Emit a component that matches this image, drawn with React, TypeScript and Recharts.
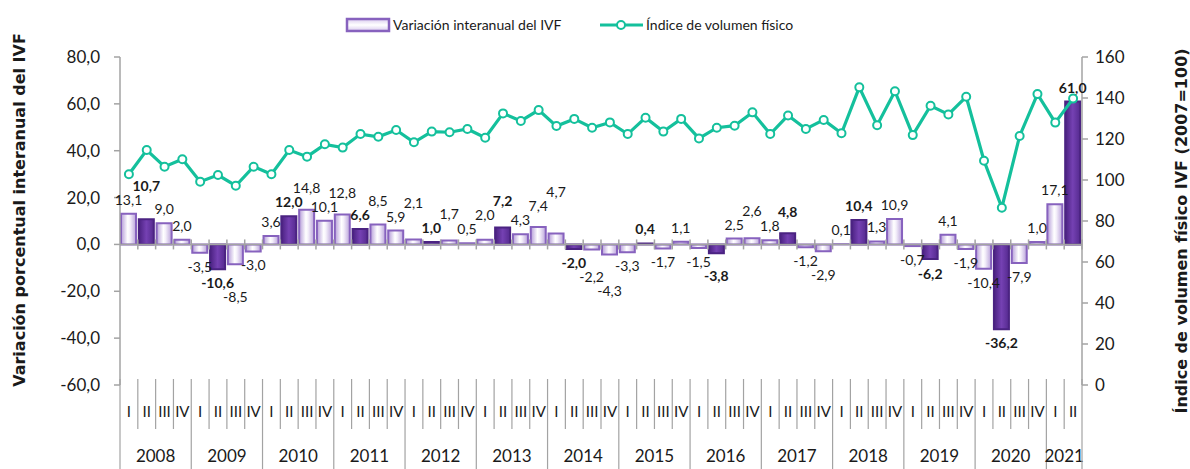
import { ComposedChart, Bar, Line, XAxis, YAxis, ReferenceLine, LabelList, Cell } from 'recharts'

const years = ['2008', '2009', '2010', '2011', '2012', '2013', '2014', '2015', '2016', '2017', '2018', '2019', '2020', '2021']
const quarters = ['I', 'II', 'III', 'IV']

// Variación interanual del IVF (%), trimestral
const variacion = [
  13.1, 10.7, 9.0, 2.0,
  -3.5, -10.6, -8.5, -3.0,
  3.6, 12.0, 14.8, 10.1,
  12.8, 6.6, 8.5, 5.9,
  2.1, 1.0, 1.7, 0.5,
  2.0, 7.2, 4.3, 7.4,
  4.7, -2.0, -2.2, -4.3,
  -3.3, 0.4, -1.7, 1.1,
  -1.5, -3.8, 2.5, 2.6,
  1.8, 4.8, -1.2, -2.9,
  0.1, 10.4, 1.3, 10.9,
  -0.7, -6.2, 4.1, -1.9,
  -10.4, -36.2, -7.9, 1.0,
  17.1, 61.0,
]

// Índice de volumen físico (2007=100)
const ivf = [
  102.8, 114.6, 106.5, 110.1,
  99.2, 102.4, 97.2, 106.5,
  102.8, 114.6, 111.4, 117.4,
  115.8, 122.4, 121.1, 124.4,
  118.4, 123.6, 123.3, 124.9,
  120.6, 132.5, 128.8, 134.1,
  126.3, 129.8, 125.5, 128.1,
  122.4, 130.4, 123.6, 129.8,
  120.3, 125.5, 126.5, 133.0,
  122.4, 131.5, 124.9, 129.3,
  122.8, 145.2, 126.7, 143.3,
  121.9, 136.2, 132.0, 140.6,
  109.4, 86.5, 121.5, 141.9,
  128.0, 139.7,
]

const leftTicks = [-60, -40, -20, 0, 20, 40, 60, 80]
const rightTicks = [0, 20, 40, 60, 80, 100, 120, 140, 160]
const LEFT_MIN = -60
const LEFT_MAX = 80

const data = variacion.map((v, i) => ({
  name: `${quarters[i % 4]} ${years[Math.floor(i / 4)]}`,
  q: quarters[i % 4],
  year: years[Math.floor(i / 4)],
  variacion: v,
  ivf: ivf[i],
}))

const W = 1190
const H = 469
const TOP = 57
const LEFT_W = 120
const RIGHT_W = 108
const XAXIS_H = 84
const plotBottom = H - XAXIS_H
const band = (W - LEFT_W - RIGHT_W) / data.length

const FONT = 'Lato, Carlito, Calibri, sans-serif'
const TITLE_FONT = "'DejaVu Sans', Verdana, sans-serif"
const TEXT = '#1a1a1a'
const GRAY = '#a3a3a3'
const TEAL = '#14c09c'

const fmt = (v: number) => v.toFixed(1).replace('.', ',')

// stagger neighbouring data labels so they don't sit on top of each other
const pxPerUnit = (plotBottom - TOP) / (LEFT_MAX - LEFT_MIN)
const LABEL_GAP = 14
const labelShift: number[] = []
let prevY: number | null = null
let prevPos: boolean | null = null
variacion.forEach((v) => {
  const pos = v >= 0
  const edge = TOP + (LEFT_MAX - v) * pxPerUnit
  const base = pos ? edge - 9 : edge + 19
  let y = base
  if (prevY !== null && prevPos === pos && Math.abs(y - prevY) < LABEL_GAP) {
    y = pos ? Math.min(y, prevY - LABEL_GAP) : Math.max(y, prevY + LABEL_GAP)
  }
  labelShift.push(y - base)
  prevY = y
  prevPos = pos
})

function QuarterTick(props: any) {
  const { x, payload } = props
  const i = props.index ?? payload.index
  const left = x - band / 2
  const isYearStart = i % 4 === 0
  const isLast = i === data.length - 1
  const count = Math.min(4, data.length - i)
  return (
    <g>
      <line
        x1={left}
        x2={left}
        y1={plotBottom - 6}
        y2={isYearStart ? H : plotBottom + 44}
        stroke={GRAY}
        strokeWidth={1.2}
      />
      {isLast && (
        <line x1={left + band} x2={left + band} y1={plotBottom - 6} y2={H} stroke={GRAY} strokeWidth={1.2} />
      )}
      <text x={x} y={plotBottom + 32} textAnchor="middle" fontSize={15} fontFamily={FONT} fill={TEXT}>
        {data[i].q}
      </text>
      {isYearStart && (
        <text
          x={left + (count * band) / 2}
          y={plotBottom + 77}
          textAnchor="middle"
          fontSize={17}
          fontFamily={FONT}
          fill={TEXT}
        >
          {data[i].year}
        </text>
      )}
    </g>
  )
}

function BarLabel(props: any) {
  const { x, y, width, height, value, index } = props
  const top = Math.min(y, y + height)
  const bottom = Math.max(y, y + height)
  const pos = value >= 0
  return (
    <text
      x={x + width / 2}
      y={(pos ? top - 9 : bottom + 19) + (labelShift[index] || 0)}
      textAnchor="middle"
      fontSize={14}
      fontFamily={FONT}
      fontWeight={index % 4 === 1 ? 700 : 400}
      fill={TEXT}
    >
      {fmt(value)}
    </text>
  )
}

function ZeroAxis(props: any) {
  const { x1, y1, x2 } = props
  const step = (x2 - x1) / data.length
  return (
    <g>
      <line x1={x1} x2={x2} y1={y1} y2={y1} stroke={GRAY} strokeWidth={1.5} />
      {data.map((_, k) => (
        <line
          key={k}
          x1={x1 + (k + 1) * step}
          x2={x1 + (k + 1) * step}
          y1={y1 - 5}
          y2={y1 + 5}
          stroke={GRAY}
          strokeWidth={1.5}
        />
      ))}
    </g>
  )
}

export default function App() {
  return (
    <div style={{ position: 'relative', width: W, height: H, background: '#fff' }}>
      <style>{'body{margin:0}'}</style>
      <ComposedChart width={W} height={H} data={data} margin={{ top: TOP, right: 0, bottom: 0, left: 0 }}>
        <defs>
          <linearGradient id="gLight" x1="0" y1="0" x2="1" y2="0">
            <stop offset="0%" stopColor="#b49bd8" />
            <stop offset="45%" stopColor="#ffffff" />
            <stop offset="60%" stopColor="#f4effa" />
            <stop offset="100%" stopColor="#b9a2da" />
          </linearGradient>
          <linearGradient id="gDark" x1="0" y1="0" x2="1" y2="0">
            <stop offset="0%" stopColor="#4a2180" />
            <stop offset="50%" stopColor="#7541b3" />
            <stop offset="100%" stopColor="#552a8f" />
          </linearGradient>
        </defs>
        <XAxis
          dataKey="name"
          interval={0}
          height={XAXIS_H}
          axisLine={false}
          tickLine={false}
          tick={<QuarterTick />}
        />
        <YAxis
          yAxisId="left"
          domain={[LEFT_MIN, LEFT_MAX]}
          ticks={leftTicks}
          width={LEFT_W}
          axisLine={{ stroke: GRAY, strokeWidth: 1.5 }}
          tickLine={{ stroke: GRAY, strokeWidth: 1.5 }}
          tickSize={6}
          tickMargin={14}
          tickFormatter={fmt}
          tick={{ fontSize: 17, fontFamily: FONT, fill: TEXT }}
        />
        <YAxis
          yAxisId="right"
          orientation="right"
          domain={[0, 160]}
          ticks={rightTicks}
          width={RIGHT_W}
          axisLine={{ stroke: GRAY, strokeWidth: 1.5 }}
          tickLine={{ stroke: GRAY, strokeWidth: 1.5 }}
          tickSize={6}
          tickMargin={7}
          tick={{ fontSize: 17, fontFamily: FONT, fill: TEXT }}
        />
        <ReferenceLine yAxisId="left" y={0} shape={<ZeroAxis />} />
        <Bar yAxisId="left" dataKey="variacion" barSize={15} isAnimationActive={false}>
          {data.map((d, i) => (
            <Cell
              key={d.name}
              fill={i % 4 === 1 ? 'url(#gDark)' : 'url(#gLight)'}
              stroke={i % 4 === 1 ? '#4b2382' : '#8762be'}
              strokeWidth={2}
            />
          ))}
          <LabelList dataKey="variacion" content={<BarLabel />} />
        </Bar>
        <Line
          yAxisId="right"
          type="linear"
          dataKey="ivf"
          stroke={TEAL}
          strokeWidth={3.2}
          dot={{ r: 4, fill: '#fff', stroke: TEAL, strokeWidth: 2 }}
          activeDot={false}
          isAnimationActive={false}
        />
      </ComposedChart>
      <svg width={W} height={H} style={{ position: 'absolute', left: 0, top: 0, pointerEvents: 'none' }}>
        <defs>
          <linearGradient id="gLegend" x1="0" y1="0" x2="0" y2="1">
            <stop offset="0%" stopColor="#d9cbee" />
            <stop offset="50%" stopColor="#ffffff" />
            <stop offset="100%" stopColor="#d9cbee" />
          </linearGradient>
        </defs>
        <rect x={347} y={19} width={42} height={12} fill="url(#gLegend)" stroke="#8762be" strokeWidth={2.5} />
        <text x={393} y={30} fontSize={14} fontFamily={FONT} fill={TEXT}>
          Variación interanual del IVF
        </text>
        <line x1={600} x2={643} y1={25} y2={25} stroke={TEAL} strokeWidth={3.2} />
        <circle cx={621} cy={25} r={4} fill="#fff" stroke={TEAL} strokeWidth={2} />
        <text x={646} y={30} fontSize={14} fontFamily={FONT} fill={TEXT}>
          Índice de volumen físico
        </text>
        <text
          transform="translate(25,210) rotate(-90)"
          textAnchor="middle"
          fontSize={16}
          fontWeight={700}
          fontFamily={TITLE_FONT}
          fill={TEXT}
        >
          Variación porcentual interanual del IVF
        </text>
        <text
          transform="translate(1187,231) rotate(-90)"
          textAnchor="middle"
          fontSize={16}
          fontWeight={700}
          fontFamily={TITLE_FONT}
          fill={TEXT}
        >
          Índice de volumen físico IVF (2007=100)
        </text>
      </svg>
    </div>
  )
}
